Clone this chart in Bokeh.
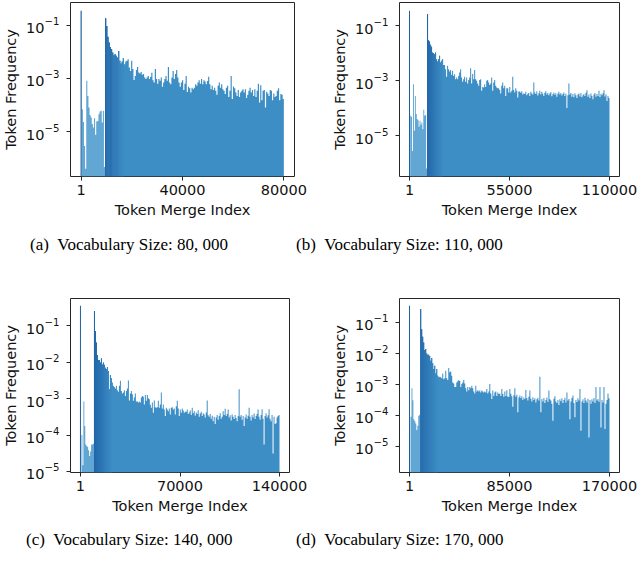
import numpy as np
from bokeh.plotting import figure
from bokeh.models import Range1d, FixedTicker, Div
from bokeh.layouts import column, row
from bokeh.embed import file_html
from bokeh.resources import INLINE

# ---------------- data ----------------
vocab_sizes = [80000, 110000, 140000, 170000]
panel_letters = ["(a)", "(b)", "(c)", "(d)"]
x_tick_values = [[1, 40000, 80000], [1, 55000, 110000], [1, 70000, 140000], [1, 85000, 170000]]
x_tick_labels = [["1", "40000", "80000"], ["1", "55000", "110000"],
                 ["1", "70000", "140000"], ["1", "85000", "170000"]]
y_ticks_sparse = [1e-1, 1e-3, 1e-5]
y_ticks_dense = [1e-1, 1e-2, 1e-3, 1e-4, 1e-5]

# merge index where the low-frequency block starts / where the high block starts
left_start = [260, 386, 700, 850]
main_start = [9440, 9650, 9500, 9100]

# frequency of the very first token (log10)
log_first = [-0.46, -0.45, -0.45, -0.46]

# low-frequency block (log10 frequency)
log_left_a = [-4.16, -4.64, -5.54, -6.4, -3.09, -3.66, -4.1, -4.38, -4.47, -4.72, -4.85,
              -4.5, -5.12, -4.62, -4.6, -4.35, -4.25, -4.22, -4.66, -4.22, -6.33]
log_left_b = [-4.27, -4.31, -5.55, -3.12, -4.82, -3.55, -4.21, -4.39, -4.43, -4.67, -4.45,
              -4.6, -4.52, -4.76, -4.05, -4.27, -4.24, -6.19]
log_left_c = [-4.0, -4.83, -3.08, -3.75, -4.26, -4.3, -4.33, -4.42, -4.58, -4.45, -4.26,
              -4.26, -4.24]
log_left_d = [-4.04, -3.12, -3.51, -4.12, -4.19, -4.26, -4.47, -4.33, -4.01, -3.98]

# main block (log10 frequency)
log_main_a = [
    -0.74, -1.03, -1.44, -1.65, -1.82, -1.9, -2.03, -2.13, -2.09, -2.15,
    -2.22, -1.97, -2.34, -2.44, -2.37, -2.24, -2.47, -2.37, -2.34, -2.28,
    -2.59, -2.72, -2.34, -2.65, -3.06, -2.91, -2.69, -2.57, -2.78, -2.82,
    -2.76, -2.87, -2.84, -2.97, -3.03, -2.97, -2.91, -3.03, -2.95, -2.79,
    -3.07, -3.16, -2.65, -3.03, -3.2, -3.03, -3.09, -2.97, -3.32, -3.16,
    -3.03, -2.91, -3.09, -2.57, -3.16, -3.22, -2.97, -2.72, -3.03, -2.84,
    -2.69, -2.97, -3.16, -3.32, -3.16, -3.07, -3.44, -3.2, -2.91, -3.51,
    -3.32, -3.37,
    -3.53, -3.35, -3.41, -3.35, -3.22, -3.28, -3.16, -3.07, -3.2, -3.03,
    -3.22, -3.07, -3.12, -3.22, -3.1, -2.94, -3.22, -3.41, -3.28, -3.44,
    -3.35, -3.47, -3.62, -3.28, -3.16, -3.35, -3.22, -3.41, -3.47, -3.59,
    -3.35, -3.28, -3.7, -3.47, -2.91, -3.78, -3.31, -3.37, -3.53, -3.66,
    -3.44, -3.7, -3.53, -3.47, -3.41, -3.53, -3.41, -3.74, -3.62, -3.47,
    -3.35, -3.53, -3.44, -3.66, -3.41, -3.7, -3.47, -3.2, -3.91, -3.26,
    -3.82, -3.47, -3.44, -4.1, -3.5, -3.57, -3.66, -3.44, -3.47, -3.82,
    -3.57, -3.7, -3.66, -3.47, -3.37, -3.82, -3.59, -3.62, -3.78]
log_main_b = [
    -0.57, -1.52, -1.57, -1.69, -1.76, -1.97, -2.0, -2.03, -1.97, -2.21,
    -2.3, -2.21, -2.09, -2.33, -2.27, -2.21, -2.42, -2.42, -2.58, -2.85,
    -2.45, -2.58, -2.66, -2.61, -2.78, -2.63, -2.82, -2.76, -2.94, -2.88,
    -2.94, -2.82, -2.7, -2.58, -2.88, -3.03, -2.94, -2.85, -3.03, -2.88,
    -3.1, -2.97, -2.88, -2.54, -3.1, -2.75, -2.94, -2.61, -2.94, -3.0,
    -3.1, -3.18, -2.97, -2.94, -3.36, -3.22, -3.24, -3.12, -3.22, -3.0,
    -2.97, -3.06, -3.15, -3.1, -2.88, -3.36, -3.06, -2.97, -3.18, -3.24,
    -3.27, -3.27, -3.33, -3.46, -3.18, -3.06, -3.27, -3.18, -3.55, -3.27,
    -3.27, -3.42, -3.22, -3.42, -3.36, -2.85, -3.33, -3.42, -3.27, -3.36,
    -3.61, -3.39, -3.39,
    -3.43, -3.38, -3.5, -3.45, -3.48, -3.4, -3.52,
    -3.47, -3.44, -3.55, -3.4, -3.46, -3.5, -3.06,
    -3.42, -3.48, -3.38, -3.53, -3.45, -3.36, -3.5,
    -3.4, -3.47, -3.55, -3.43, -3.38, -3.5, -3.44,
    -3.52, -3.46, -3.41, -3.56, -3.49, -3.42, -3.51,
    -3.45, -3.58, -3.47, -3.4, -3.5, -3.44, -3.53,
    -3.48, -3.42, -3.55, -3.47, -3.99, -3.52, -3.1,
    -3.5, -3.44, -3.58, -3.48, -3.6, -3.45, -3.52,
    -3.62, -3.5, -3.46, -3.57, -3.44, -3.6, -3.52,
    -3.48, -3.55, -3.43, -3.34, -3.58, -3.5, -3.62,
    -3.46, -3.55, -3.67, -3.5, -3.44, -3.58, -3.48,
    -3.55, -3.36, -3.6, -3.47, -3.52, -3.45, -3.34,
    -3.57, -3.49, -3.73, -3.55, -3.62]
log_main_c = [
    -0.59, -1.14, -1.46, -1.8, -1.94, -1.94, -2.01, -1.89, -2.06, -2.01,
    -2.07, -2.15, -2.19, -2.13, -2.24, -2.74, -2.35, -2.44, -2.56, -2.65,
    -2.68, -2.72, -2.65, -2.77, -2.81, -2.65, -2.51, -2.79, -2.86, -2.83,
    -2.77, -2.93, -2.79, -2.72, -2.5, -3.05, -2.86, -2.79, -2.88, -3.06,
    -2.97, -2.86, -3.08, -3.08, -3.11, -3.08, -3.11, -2.97, -2.93, -2.95,
    -3.16, -2.9, -3.06, -2.9, -2.99, -3.02, -3.17, -3.25, -3.11, -3.39,
    -3.05, -3.24, -3.25, -3.24, -3.06, -3.25, -3.16, -2.83, -3.27, -3.16,
    -3.3, -3.48, -3.25, -3.3, -3.35, -3.27, -3.44, -3.25, -3.24, -3.3,
    -3.27, -3.44, -3.21, -3.06, -3.27, -3.48, -3.3, -3.39, -3.27, -3.33,
    -3.39, -3.36,
    -3.36, -3.3, -3.42, -3.38, -3.33, -3.45, -3.25, -3.4, -3.35, -3.47,
    -3.38, -3.42, -3.32, -3.5, -3.41, -3.36, -3.48, -3.4, -3.44, -3.52,
    -3.38, -3.05, -3.46, -3.5, -3.42, -3.55, -3.47, -3.62, -3.5, -3.7,
    -3.52, -3.45, -3.58, -3.48, -3.4, -3.55, -3.5, -3.35, -3.45, -3.28,
    -3.48, -3.42, -3.3, -3.52, -3.46, -3.6, -3.44, -3.5, -3.56, -3.45,
    -3.53, -3.62, -3.48, -2.74, -3.5, -3.45, -3.58, -3.48, -3.75, -3.52,
    -3.44, -3.55, -3.47, -3.25, -3.5, -3.6, -3.45, -3.52, -3.41, -3.56,
    -3.48, -3.42, -3.3, -3.5, -3.58, -3.45, -3.29, -3.55, -4.26, -3.48,
    -3.4, -3.52, -3.46, -3.29, -3.55, -3.62, -3.45, -4.51, -3.5, -3.7,
    -3.68, -3.52, -3.48, -3.45]
log_main_d = [
    -0.57, -1.22, -1.46, -1.65, -1.89, -1.86, -2.0, -2.04, -2.04, -2.08,
    -2.24, -2.15, -2.32, -2.5, -2.4, -2.65, -2.5, -2.72, -2.77, -2.75,
    -2.77, -2.8, -2.65, -2.83, -2.8, -2.56, -2.8, -2.86, -2.47, -2.61,
    -2.58, -2.72, -2.94, -2.97, -3.08, -3.08, -2.94, -2.9, -2.86, -2.89,
    -3.08, -2.99, -2.94, -2.86, -2.97, -3.12, -3.23, -3.08, -3.19, -3.08,
    -3.12, -3.04, -3.12, -3.23, -3.29, -3.04, -3.23, -3.19, -3.23, -3.2,
    -3.26, -3.2, -3.23, -3.26, -3.23, -3.26, -3.15, -3.29, -3.23, -2.99,
    -3.29, -3.47, -3.2, -3.37, -3.26, -3.23, -3.37, -3.26, -3.31, -3.29,
    -3.37, -3.15, -3.31, -3.4, -3.23, -3.37, -3.19, -3.4, -3.4, -3.15,
    -3.3, -3.38, -3.72, -3.35, -3.12, -3.4, -3.33, -3.9, -3.42, -3.36,
    -3.45, -3.38, -3.5, -3.42, -3.47, -3.18, -3.44, -3.52, -3.4, -3.2,
    -3.46, -3.55, -3.41, -3.5, -3.45, -3.58, -3.48, -3.43, -3.52, -2.75,
    -3.9, -3.47, -3.55, -3.44, -3.6, -3.5, -3.42, -3.56, -3.2, -3.48,
    -3.52, -3.62, -4.17, -3.46, -3.38, -3.55, -3.6, -3.5, -3.66, -3.48,
    -3.54, -3.45, -3.6, -3.5, -3.43, -3.58, -3.26, -3.52, -3.47, -4.12,
    -3.55, -3.44, -3.36, -3.6, -4.06, -3.5, -3.57, -3.45, -3.52, -3.15,
    -4.49, -3.55, -3.48, -3.6, -3.43, -3.52, -3.58, -3.46, -4.71, -3.5,
    -3.62, -3.48, -3.55, -3.44, -3.6, -3.08, -3.52, -3.47, -3.56, -3.08,
    -4.39, -3.5, -3.58, -3.08, -4.44, -3.62, -3.5, -3.29, -3.45]

log_left_all = [log_left_a, log_left_b, log_left_c, log_left_d]
log_main_all = [log_main_a, log_main_b, log_main_c, log_main_d]

# ---------------- layout / style ----------------
FONT = "DejaVu Sans"
TICK_SIZE = "14.5px"
SPIKE_COLOR = "#1f5f9e"
LEFT_COLOR = "#62a6d4"
BASE_COLOR = "#3e8ec6"
DARK_RGB = (34, 102, 168)
BASE_RGB = (62, 142, 198)

x_ranges = [(-4200, 84200), (-5500, 115500), (-7000, 147000), (-8500, 178500)]
y_log_ranges = [(-6.69, -0.15), (-6.48, -0.15), (-5.03, -0.25), (-5.84, -0.23)]
y_tick_sets = [y_ticks_sparse, y_ticks_sparse, y_ticks_dense, y_ticks_dense]
fig_w = [320, 317, 320, 317]
fig_h = [226, 226, 256, 256]
border_left = [69, 79, 69, 79]
border_right = [26, 18, 31, 18]
border_top = [2, 2, 34, 34]
border_bottom = [50, 50, 48, 48]
n_dark = [16, 16, 18, 18]


def shade(n, nd):
    cols = []
    for i in range(n):
        t = min(i / nd, 1.0)
        rgb = [round(d + (b - d) * t) for d, b in zip(DARK_RGB, BASE_RGB)]
        cols.append("#%02x%02x%02x" % tuple(rgb))
    return cols


def step_area(p, start, width, vals, ybot, color):
    n = len(vals)
    edges = start + np.arange(n + 1) * width
    tops = np.append(vals, vals[-1])
    p.varea_step(x=edges, y1=np.full(n + 1, ybot), y2=tops, step_mode="after",
                 fill_color=color)


def make_panel(k):
    vocab = vocab_sizes[k]
    lo, hi = y_log_ranges[k]
    ybot = 10 ** lo
    p = figure(width=fig_w[k], height=fig_h[k], y_axis_type="log",
               x_range=Range1d(*x_ranges[k]), y_range=Range1d(ybot, 10 ** hi),
               output_backend="svg", toolbar_location=None,
               min_border_left=border_left[k], min_border_right=border_right[k],
               min_border_top=border_top[k], min_border_bottom=border_bottom[k])
    p.background_fill_color = "white"
    p.border_fill_color = "white"
    p.xgrid.visible = False
    p.ygrid.visible = False
    p.outline_line_color = "#262626"
    p.outline_line_width = 1

    main_vals = 10 ** np.array(log_main_all[k])
    left_vals = 10 ** np.array(log_left_all[k])
    n_main = len(main_vals)
    n_left = len(left_vals)
    w_main = (vocab - main_start[k]) / n_main
    w_left = (main_start[k] - left_start[k]) / n_left

    step_area(p, left_start[k], w_left, left_vals, ybot, LEFT_COLOR)
    step_area(p, main_start[k], w_main, main_vals, ybot, BASE_COLOR)

    nd = n_dark[k]
    x_dark = main_start[k] + (np.arange(nd) + 0.5) * w_main
    p.vbar(x=x_dark, top=main_vals[:nd], bottom=ybot, width=w_main,
           fill_color=shade(nd, nd), line_color=None)
    p.vbar(x=[1], top=[10 ** log_first[k]], bottom=ybot, width=w_main,
           fill_color=SPIKE_COLOR, line_color=None)

    xa = p.xaxis[0]
    xa.ticker = FixedTicker(ticks=x_tick_values[k])
    xa.major_label_overrides = {t: s for t, s in zip(x_tick_values[k], x_tick_labels[k])}
    xa.minor_tick_line_color = None
    xa.axis_label = "Token Merge Index"
    xa.axis_label_standoff = 4
    xa.major_label_standoff = 4

    ya = p.yaxis[0]
    ya.ticker = FixedTicker(ticks=y_tick_sets[k])
    ya.minor_tick_line_color = None
    ya.axis_label = "Token Frequency"
    ya.axis_label_standoff = 4
    ya.major_label_standoff = 7

    for ax in (xa, ya):
        ax.axis_line_color = None
        ax.major_tick_out = 4
        ax.major_tick_in = 0
        ax.major_tick_line_color = "#262626"
        ax.major_label_text_font = FONT
        ax.major_label_text_font_size = TICK_SIZE
        ax.major_label_text_color = "#111111"
        ax.axis_label_text_font = FONT
        ax.axis_label_text_font_size = TICK_SIZE
        ax.axis_label_text_font_style = "normal"
        ax.axis_label_text_color = "#111111"
    return p


def caption_text(k):
    s = "{:,}".format(vocab_sizes[k]).replace(",", ",&nbsp;")
    return panel_letters[k] + "&nbsp;&nbsp;Vocabulary Size: " + s


CAP_STYLE = ("position:absolute;white-space:nowrap;"
             "font-family:'Liberation Serif','Times New Roman',serif;font-size:17px;color:#000;")


def caption_row(k0, k1, lefts, h, line_h):
    html = (f'<div style="position:relative;width:637px;height:{h}px;">'
            f'<span style="{CAP_STYLE}top:0;line-height:{line_h}px;left:{lefts[0]}px;">{caption_text(k0)}</span>'
            f'<span style="{CAP_STYLE}top:0;line-height:{line_h}px;left:{lefts[1]}px;">{caption_text(k1)}</span>'
            '</div>')
    return Div(text=html, width=637, height=h, margin=0)


panels = [make_panel(k) for k in range(4)]
layout = column(
    row(panels[0], panels[1]),
    caption_row(0, 1, [30, 296], 38, 38),
    row(panels[2], panels[3]),
    caption_row(2, 3, [26, 296], 40, 40),
)

open("out.html", "w").write(file_html(layout, INLINE, title="Token frequency"))
